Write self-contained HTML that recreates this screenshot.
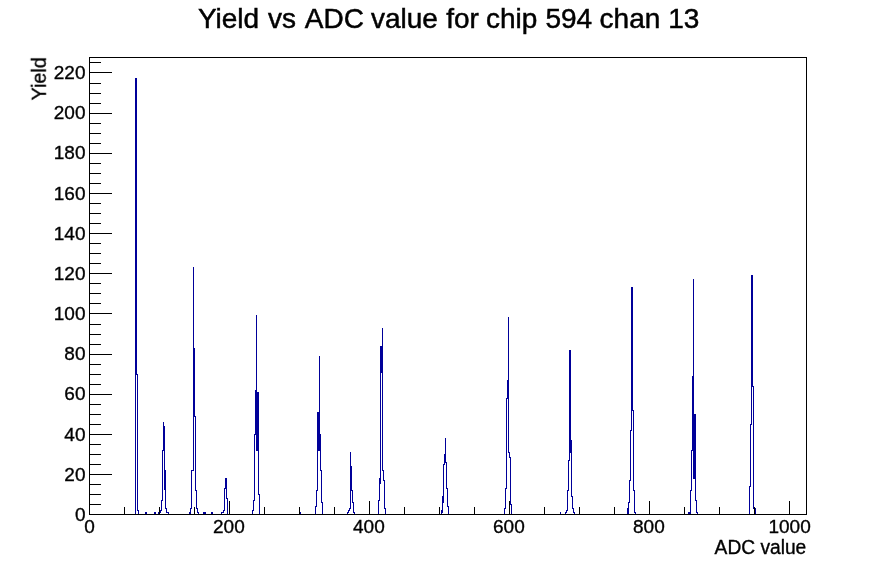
<!DOCTYPE html>
<html lang="en"><head><meta charset="utf-8"><title>Yield vs ADC value for chip 594 chan 13</title>
<style>html,body{margin:0;padding:0;background:#fff}body{width:896px;height:572px;overflow:hidden}</style></head>
<body>
<svg width="896" height="572" viewBox="0 0 896 572" style="display:block">
<rect width="896" height="572" fill="#fff"/>
<g fill="#000099" shape-rendering="crispEdges">
<rect x="135" y="78" width="1" height="437"/>
<rect x="136" y="78" width="1" height="297"/>
<rect x="137" y="374" width="1" height="137"/>
<rect x="138" y="510" width="1" height="5"/>
<rect x="145" y="512" width="1" height="3"/>
<rect x="146" y="512" width="1" height="3"/>
<rect x="154" y="512" width="1" height="3"/>
<rect x="155" y="512" width="1" height="3"/>
<rect x="158" y="512" width="1" height="3"/>
<rect x="159" y="512" width="1" height="1"/>
<rect x="160" y="510" width="1" height="3"/>
<rect x="161" y="500" width="1" height="11"/>
<rect x="162" y="450" width="1" height="51"/>
<rect x="163" y="422" width="1" height="29"/>
<rect x="164" y="426" width="1" height="64"/>
<rect x="165" y="470" width="1" height="39"/>
<rect x="166" y="508" width="1" height="5"/>
<rect x="167" y="512" width="1" height="1"/>
<rect x="168" y="512" width="1" height="3"/>
<rect x="189" y="512" width="1" height="3"/>
<rect x="190" y="508" width="1" height="7"/>
<rect x="191" y="470" width="1" height="39"/>
<rect x="192" y="470" width="1" height="1"/>
<rect x="193" y="267" width="1" height="204"/>
<rect x="194" y="348" width="1" height="69"/>
<rect x="195" y="416" width="1" height="75"/>
<rect x="196" y="490" width="1" height="19"/>
<rect x="197" y="508" width="1" height="5"/>
<rect x="198" y="512" width="1" height="3"/>
<rect x="203" y="512" width="1" height="3"/>
<rect x="204" y="512" width="1" height="3"/>
<rect x="205" y="512" width="1" height="3"/>
<rect x="211" y="512" width="1" height="3"/>
<rect x="212" y="512" width="1" height="3"/>
<rect x="221" y="512" width="1" height="3"/>
<rect x="222" y="512" width="1" height="1"/>
<rect x="223" y="510" width="1" height="3"/>
<rect x="224" y="488" width="1" height="23"/>
<rect x="225" y="478" width="1" height="11"/>
<rect x="226" y="478" width="1" height="21"/>
<rect x="227" y="498" width="1" height="17"/>
<rect x="252" y="510" width="1" height="5"/>
<rect x="253" y="500" width="1" height="11"/>
<rect x="254" y="434" width="1" height="67"/>
<rect x="255" y="390" width="1" height="45"/>
<rect x="256" y="315" width="1" height="136"/>
<rect x="257" y="392" width="1" height="59"/>
<rect x="258" y="392" width="1" height="103"/>
<rect x="259" y="494" width="1" height="21"/>
<rect x="299" y="512" width="1" height="3"/>
<rect x="300" y="512" width="1" height="3"/>
<rect x="315" y="506" width="1" height="9"/>
<rect x="316" y="490" width="1" height="17"/>
<rect x="317" y="412" width="1" height="79"/>
<rect x="318" y="412" width="1" height="39"/>
<rect x="319" y="356" width="1" height="95"/>
<rect x="320" y="434" width="1" height="37"/>
<rect x="321" y="470" width="1" height="33"/>
<rect x="322" y="502" width="1" height="13"/>
<rect x="347" y="512" width="1" height="3"/>
<rect x="348" y="510" width="1" height="3"/>
<rect x="349" y="508" width="1" height="3"/>
<rect x="350" y="452" width="1" height="57"/>
<rect x="351" y="466" width="1" height="25"/>
<rect x="352" y="490" width="1" height="13"/>
<rect x="353" y="502" width="1" height="11"/>
<rect x="354" y="512" width="1" height="3"/>
<rect x="378" y="500" width="1" height="15"/>
<rect x="379" y="478" width="1" height="23"/>
<rect x="380" y="346" width="1" height="138"/>
<rect x="381" y="346" width="1" height="27"/>
<rect x="382" y="328" width="1" height="143"/>
<rect x="383" y="470" width="1" height="11"/>
<rect x="384" y="480" width="1" height="29"/>
<rect x="385" y="508" width="1" height="7"/>
<rect x="441" y="510" width="1" height="5"/>
<rect x="442" y="496" width="1" height="17"/>
<rect x="443" y="464" width="1" height="39"/>
<rect x="444" y="454" width="1" height="11"/>
<rect x="445" y="438" width="1" height="25"/>
<rect x="446" y="462" width="1" height="27"/>
<rect x="447" y="488" width="1" height="19"/>
<rect x="448" y="506" width="1" height="9"/>
<rect x="504" y="508" width="1" height="7"/>
<rect x="505" y="488" width="1" height="21"/>
<rect x="506" y="398" width="1" height="91"/>
<rect x="507" y="380" width="1" height="19"/>
<rect x="508" y="317" width="1" height="136"/>
<rect x="509" y="452" width="1" height="6"/>
<rect x="510" y="457" width="1" height="48"/>
<rect x="511" y="504" width="1" height="11"/>
<rect x="560" y="512" width="1" height="3"/>
<rect x="565" y="512" width="1" height="3"/>
<rect x="566" y="510" width="1" height="3"/>
<rect x="567" y="490" width="1" height="21"/>
<rect x="568" y="460" width="1" height="31"/>
<rect x="569" y="350" width="1" height="111"/>
<rect x="570" y="350" width="1" height="103"/>
<rect x="571" y="440" width="1" height="57"/>
<rect x="572" y="496" width="1" height="13"/>
<rect x="573" y="508" width="1" height="5"/>
<rect x="574" y="512" width="1" height="3"/>
<rect x="627" y="508" width="1" height="7"/>
<rect x="628" y="502" width="1" height="13"/>
<rect x="629" y="480" width="1" height="23"/>
<rect x="630" y="430" width="1" height="51"/>
<rect x="631" y="287" width="1" height="144"/>
<rect x="632" y="287" width="1" height="124"/>
<rect x="633" y="410" width="1" height="81"/>
<rect x="634" y="490" width="1" height="23"/>
<rect x="635" y="512" width="1" height="3"/>
<rect x="688" y="512" width="1" height="3"/>
<rect x="689" y="512" width="1" height="3"/>
<rect x="690" y="490" width="1" height="25"/>
<rect x="691" y="450" width="1" height="41"/>
<rect x="692" y="376" width="1" height="75"/>
<rect x="693" y="279" width="1" height="200"/>
<rect x="694" y="414" width="1" height="65"/>
<rect x="695" y="414" width="1" height="87"/>
<rect x="696" y="500" width="1" height="13"/>
<rect x="697" y="512" width="1" height="3"/>
<rect x="749" y="486" width="1" height="29"/>
<rect x="750" y="424" width="1" height="63"/>
<rect x="751" y="275" width="1" height="150"/>
<rect x="752" y="275" width="1" height="112"/>
<rect x="753" y="386" width="1" height="123"/>
<rect x="754" y="508" width="1" height="1"/>
<rect x="755" y="508" width="1" height="7"/>
</g>
<g fill="#000" shape-rendering="crispEdges">
<rect x="89" y="57" width="718" height="1"/>
<rect x="89" y="514" width="718" height="1"/>
<rect x="89" y="57" width="1" height="458"/>
<rect x="806" y="57" width="1" height="458"/>
<rect x="89" y="501" width="1" height="14"/>
<rect x="124" y="507" width="1" height="8"/>
<rect x="159" y="507" width="1" height="8"/>
<rect x="194" y="507" width="1" height="8"/>
<rect x="229" y="501" width="1" height="14"/>
<rect x="264" y="507" width="1" height="8"/>
<rect x="299" y="507" width="1" height="8"/>
<rect x="334" y="507" width="1" height="8"/>
<rect x="369" y="501" width="1" height="14"/>
<rect x="404" y="507" width="1" height="8"/>
<rect x="439" y="507" width="1" height="8"/>
<rect x="474" y="507" width="1" height="8"/>
<rect x="509" y="501" width="1" height="14"/>
<rect x="544" y="507" width="1" height="8"/>
<rect x="579" y="507" width="1" height="8"/>
<rect x="614" y="507" width="1" height="8"/>
<rect x="649" y="501" width="1" height="14"/>
<rect x="684" y="507" width="1" height="8"/>
<rect x="719" y="507" width="1" height="8"/>
<rect x="754" y="507" width="1" height="8"/>
<rect x="789" y="501" width="1" height="14"/>
<rect x="89" y="514" width="23" height="1"/>
<rect x="89" y="504" width="12" height="1"/>
<rect x="89" y="494" width="12" height="1"/>
<rect x="89" y="484" width="12" height="1"/>
<rect x="89" y="474" width="23" height="1"/>
<rect x="89" y="464" width="12" height="1"/>
<rect x="89" y="454" width="12" height="1"/>
<rect x="89" y="444" width="12" height="1"/>
<rect x="89" y="434" width="23" height="1"/>
<rect x="89" y="424" width="12" height="1"/>
<rect x="89" y="414" width="12" height="1"/>
<rect x="89" y="404" width="12" height="1"/>
<rect x="89" y="394" width="23" height="1"/>
<rect x="89" y="384" width="12" height="1"/>
<rect x="89" y="374" width="12" height="1"/>
<rect x="89" y="364" width="12" height="1"/>
<rect x="89" y="354" width="23" height="1"/>
<rect x="89" y="344" width="12" height="1"/>
<rect x="89" y="334" width="12" height="1"/>
<rect x="89" y="324" width="12" height="1"/>
<rect x="89" y="313" width="23" height="1"/>
<rect x="89" y="303" width="12" height="1"/>
<rect x="89" y="293" width="12" height="1"/>
<rect x="89" y="283" width="12" height="1"/>
<rect x="89" y="273" width="23" height="1"/>
<rect x="89" y="263" width="12" height="1"/>
<rect x="89" y="253" width="12" height="1"/>
<rect x="89" y="243" width="12" height="1"/>
<rect x="89" y="233" width="23" height="1"/>
<rect x="89" y="223" width="12" height="1"/>
<rect x="89" y="213" width="12" height="1"/>
<rect x="89" y="203" width="12" height="1"/>
<rect x="89" y="193" width="23" height="1"/>
<rect x="89" y="183" width="12" height="1"/>
<rect x="89" y="173" width="12" height="1"/>
<rect x="89" y="163" width="12" height="1"/>
<rect x="89" y="153" width="23" height="1"/>
<rect x="89" y="143" width="12" height="1"/>
<rect x="89" y="133" width="12" height="1"/>
<rect x="89" y="123" width="12" height="1"/>
<rect x="89" y="113" width="23" height="1"/>
<rect x="89" y="103" width="12" height="1"/>
<rect x="89" y="93" width="12" height="1"/>
<rect x="89" y="83" width="12" height="1"/>
<rect x="89" y="72" width="23" height="1"/>
<rect x="89" y="62" width="12" height="1"/>
</g>
<g font-family="'Liberation Sans', Arial, Helvetica, sans-serif" fill="#000" opacity="0.999">
<text y="27.7" font-size="28" stroke="#000" stroke-width="0.5"><tspan x="197.9">Yield </tspan><tspan x="268.0">vs </tspan><tspan x="304.8">ADC </tspan><tspan x="370.9">value </tspan><tspan x="446.2">for </tspan><tspan x="486.0">chip </tspan><tspan x="545.4">594 </tspan><tspan x="599.6">chan </tspan><tspan x="668.3">13</tspan></text>
<g font-size="19" stroke="#000" stroke-width="0.35">
<text x="89.6" y="533" text-anchor="middle">0</text>
<text x="228.9" y="533" text-anchor="middle">200</text>
<text x="368.9" y="533" text-anchor="middle">400</text>
<text x="508.9" y="533" text-anchor="middle">600</text>
<text x="648.9" y="533" text-anchor="middle">800</text>
<text x="789.6" y="533" text-anchor="middle">1000</text>
<text x="85.5" y="520.8" text-anchor="end">0</text>
<text x="85.5" y="480.6" text-anchor="end">20</text>
<text x="85.5" y="440.5" text-anchor="end">40</text>
<text x="85.5" y="400.3" text-anchor="end">60</text>
<text x="85.5" y="360.1" text-anchor="end">80</text>
<text x="85.5" y="320.0" text-anchor="end">100</text>
<text x="85.5" y="279.8" text-anchor="end">120</text>
<text x="85.5" y="239.6" text-anchor="end">140</text>
<text x="85.5" y="199.5" text-anchor="end">160</text>
<text x="85.5" y="159.3" text-anchor="end">180</text>
<text x="85.5" y="119.1" text-anchor="end">200</text>
<text x="85.5" y="79.0" text-anchor="end">220</text>
<text transform="translate(806.3,553.9) scale(1.01,1.05)" text-anchor="end">ADC value</text>
<text transform="translate(46.2,57.2) rotate(-90) scale(1.04,1.02)" text-anchor="end">Yield</text>
</g></g>
</svg>
</body></html>
